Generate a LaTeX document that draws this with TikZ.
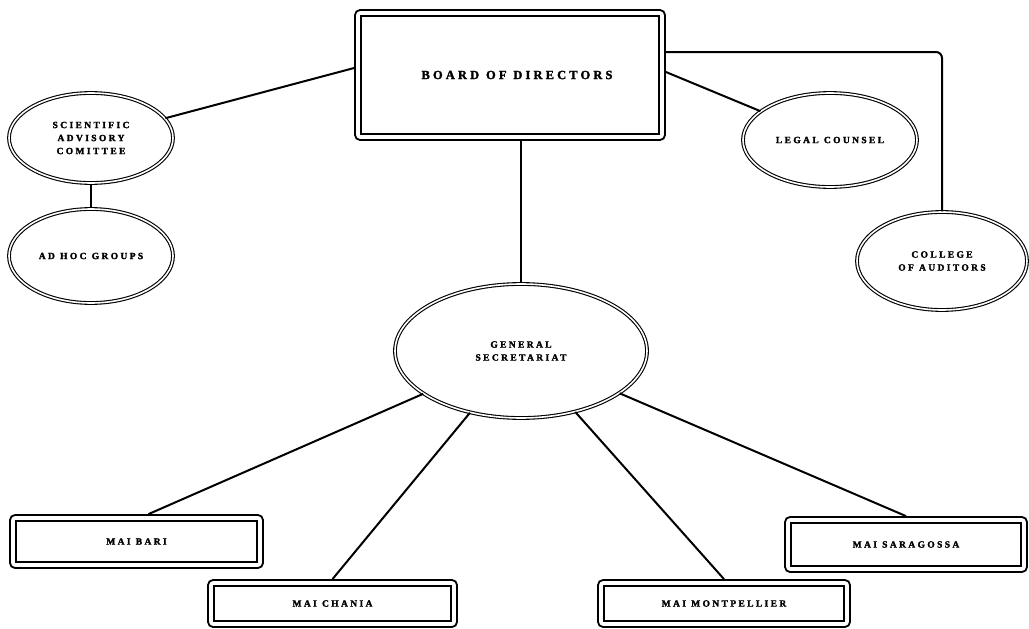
\documentclass[tikz,border=0pt]{standalone}
\usepackage{fontspec}
\setmainfont{Liberation Serif}
\newfontfamily\lblfont{Liberation Serif}[LetterSpace=25, WordSpace=1.1, FakeBold=2]
\usetikzlibrary{shapes.geometric}
\tikzset{
  lbl/.style={font=\lblfont\bfseries\fontsize{9.5}{13}\selectfont, align=center},
  box/.style={draw, rounded corners=5pt, line width=1.8pt, inner sep=0pt, lbl},
  innerbox/.style={draw, line width=2.6pt, sharp corners},
  oval/.style={ellipse, draw, double, double distance=1.6pt, line width=1.1pt, inner sep=0pt, lbl},
  conn/.style={line width=2pt}
}
\begin{document}
\begin{tikzpicture}[x=1pt,y=1pt]
\useasboundingbox[fill=white] (0,0) rectangle (1029,-629);
% nodes
\node[box, minimum width=310pt, minimum height=130pt, font=\lblfont\bfseries\fontsize{12.5}{14}\selectfont] (board) at (510,-75) {\hspace*{14pt}BOARD OF DIRECTORS};
\node[oval, minimum width=164pt, minimum height=90pt] (sci) at (91,-138) {SCIENTIFIC\\ADVISORY\\COMITTEE};
\node[oval, minimum width=164pt, minimum height=94pt] (adhoc) at (91,-256) {AD HOC GROUPS};
\node[oval, minimum width=174pt, minimum height=94pt] (legal) at (830,-140) {LEGAL COUNSEL};
\node[oval, minimum width=170pt, minimum height=98pt] (college) at (942,-261) {COLLEGE\\OF AUDITORS};
\node[oval, minimum width=252pt, minimum height=134pt] (gen) at (521,-351) {GENERAL\\SECRETARIAT};
\node[box, minimum width=253pt, minimum height=53pt] (bari) at (136.5,-541.5) {MAI BARI};
\node[box, minimum width=249pt, minimum height=47pt] (chania) at (332.5,-603.5) {MAI CHANIA};
\node[box, minimum width=252pt, minimum height=47pt] (montp) at (724,-603.5) {MAI MONTPELLIER};
\node[box, minimum width=242pt, minimum height=55pt] (sarag) at (906,-544.5) {MAI SARAGOSSA};
% inner frames
\foreach \n in {board,bari,chania,montp,sarag}
  \draw[innerbox] ([shift={(7pt,7pt)}]\n.south west) rectangle ([shift={(-7pt,-7pt)}]\n.north east);
% connectors
\draw[conn] ([yshift=7pt]board.west) -- (sci);
\draw[conn] (sci) -- (adhoc);
\draw[conn] ([yshift=3pt]board.east) -- (legal);
\draw[conn, rounded corners=6pt] ([yshift=23pt]board.east) -| (college.north);
\draw[conn] (board.south -| gen.north) -- (gen.north);
\draw[conn] (gen) -- ([xshift=12pt]bari.north);
\draw[conn] (gen) -- (chania.north);
\draw[conn] (gen) -- (montp.north);
\draw[conn] (gen) -- (sarag.north);
\end{tikzpicture}
\end{document}
